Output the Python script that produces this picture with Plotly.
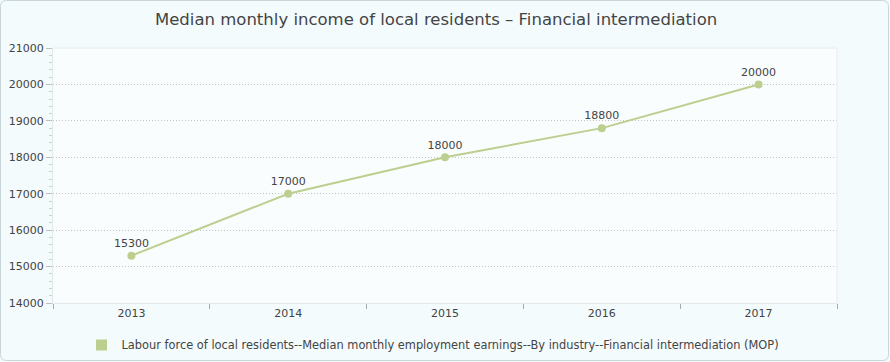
import plotly.graph_objects as go

years = ["2013", "2014", "2015", "2016", "2017"]
values = [15300, 17000, 18000, 18800, 20000]
series_name = "Labour force of local residents--Median monthly employment earnings--By industry--Financial intermediation (MOP)"
title = "Median monthly income of local residents \u2013 Financial intermediation"

W, H = 890, 362
L, R, T, B = 53, 53, 48, 59
pw, ph = W - L - R, H - T - B

color = "#bccf8f"
font = "DejaVu Sans, Verdana, sans-serif"

fig = go.Figure()
fig.add_trace(go.Scatter(
    x=years, y=values, mode="lines+markers+text",
    line=dict(color=color, width=2),
    marker=dict(color=color, size=8),
    text=[str(v) for v in values], textposition="top center",
    textfont=dict(size=11, color="#444444", family=font),
    showlegend=False, cliponaxis=False, hoverinfo="skip",
))
fig.add_trace(go.Scatter(
    x=[None], y=[None], mode="markers", name=series_name,
    marker=dict(symbol="square", size=11, color=color),
))

# rounded border around the whole chart (paper coords)
x0, x1 = -(L - 0.5) / pw, 1 + (R - 1.5) / pw
y0, y1 = -(B - 1.5) / ph, 1 + (T - 0.5) / ph
rx, ry = 6 / pw, 6 / ph
path = (f"M {x0+rx},{y0} L {x1-rx},{y0} Q {x1},{y0} {x1},{y0+ry} "
        f"L {x1},{y1-ry} Q {x1},{y1} {x1-rx},{y1} L {x0+rx},{y1} "
        f"Q {x0},{y1} {x0},{y1-ry} L {x0},{y0+ry} Q {x0},{y0} {x0+rx},{y0} Z")
fig.add_shape(type="path", path=path, xref="paper", yref="paper",
              line=dict(color="#c8d6dc", width=1), layer="below")

fig.update_layout(
    width=W, height=H,
    margin=dict(l=L, r=R, t=T, b=B, autoexpand=False),
    paper_bgcolor="#f3fbfd", plot_bgcolor="#f9fdfe",
    font=dict(family=font, size=11, color="#444444"),
    title=dict(text=title, x=0.49, xanchor="center", y=1 - 19 / H, yanchor="middle",
               font=dict(size=16.5, color="#444444", family=font)),
    legend=dict(orientation="h", x=0.5 - 12 / pw, xanchor="center", y=-(345 - T - ph) / ph,
                yanchor="middle", font=dict(size=11.4, color="#444444"),
                bgcolor="rgba(0,0,0,0)", itemwidth=30),
    xaxis=dict(
        type="category", range=[-0.5, 4.5], tickson="boundaries",
        ticks="outside", ticklen=5, tickcolor="#aaaaaa",
        showline=True, linecolor="#e2e8ec", showgrid=False,
        mirror=False, tickfont=dict(size=11, color="#444444"),
    ),
    yaxis=dict(
        range=[14000, 21000], dtick=1000, tickformat="d", ticks="outside", ticklen=6,
        tickcolor="#c0c0c0", showline=True, linecolor="#e2e8ec",
        showgrid=True, gridcolor="#c4c4c4", griddash="1px,2px", gridwidth=1,
        zeroline=False, tickfont=dict(size=11, color="#444444"),
        minor=dict(dtick=200, ticks="outside", ticklen=3, tickcolor="#d0d0d0", showgrid=False),
    ),
)
fig.add_shape(type="line", xref="paper", yref="paper", x0=0, x1=1, y0=1, y1=1,
              line=dict(color="#e6ecef", width=1))
fig.add_shape(type="line", xref="paper", yref="paper", x0=1, x1=1, y0=0, y1=1,
              line=dict(color="#e6ecef", width=1))

fig.write_html("out.html", config={"displayModeBar": False},
               post_script="document.body.style.margin='0';document.body.style.padding='0';")
